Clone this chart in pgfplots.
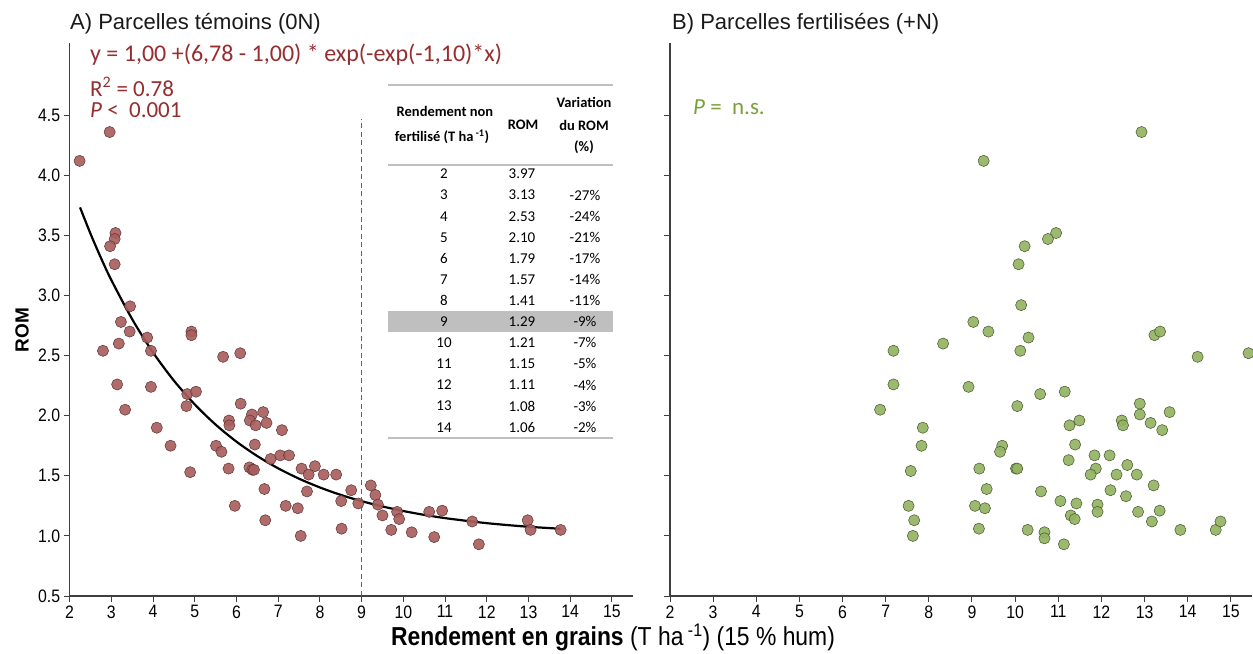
\documentclass[border=0pt]{standalone}
\usepackage{pgfplots}
\pgfplotsset{compat=1.18}
\usepackage{fontspec}
\setmainfont{Liberation Sans}
\newfontfamily\calibri{Carlito}
\newfontfamily\narrow[FakeStretch=0.88]{Liberation Sans}

\definecolor{romred}{HTML}{A95E5E}
\definecolor{romedge}{HTML}{5E3434}
\definecolor{fertgreen}{HTML}{93B363}
\definecolor{fertedge}{HTML}{45552A}
\definecolor{eqred}{HTML}{962D2F}
\definecolor{nsgreen}{HTML}{78A138}
\definecolor{axisgray}{HTML}{3F3F3F}
\definecolor{rulegray}{HTML}{BFBFBF}
\definecolor{bandgray}{HTML}{BFBFBF}

% Unfertilised plots: grain yield (T/ha) vs ROM
\pgfplotstableread{
x y
2.24 4.12
2.96 4.36
3.10 3.52
3.08 3.47
2.97 3.41
3.08 3.26
3.45 2.91
3.23 2.78
3.44 2.70
3.86 2.65
3.18 2.60
2.80 2.54
3.95 2.54
4.92 2.70
4.92 2.67
5.68 2.49
6.09 2.52
3.14 2.26
3.95 2.24
4.82 2.18
5.03 2.20
3.33 2.05
4.80 2.08
4.09 1.90
6.10 2.10
6.37 2.01
6.64 2.03
6.32 1.96
5.82 1.96
5.83 1.92
6.46 1.92
6.72 1.94
7.09 1.88
4.42 1.75
5.51 1.75
5.64 1.70
6.44 1.76
4.89 1.53
5.81 1.56
6.31 1.57
6.38 1.55
6.42 1.55
6.82 1.64
7.05 1.67
7.26 1.67
7.56 1.56
7.88 1.58
7.73 1.51
8.09 1.51
8.39 1.51
6.67 1.39
7.69 1.37
8.75 1.38
8.51 1.29
8.92 1.27
5.96 1.25
7.18 1.25
7.47 1.23
6.69 1.13
8.52 1.06
7.54 1.00
9.22 1.42
9.33 1.34
9.39 1.26
9.50 1.17
9.71 1.05
9.85 1.20
9.90 1.14
10.20 1.03
10.62 1.20
10.93 1.21
10.74 0.99
11.65 1.12
11.81 0.93
12.98 1.13
13.05 1.05
13.77 1.05
}\temoins

% Fertilised plots
\pgfplotstableread{
x y
12.93 4.36
9.27 4.12
10.95 3.52
10.76 3.47
10.22 3.41
10.08 3.26
10.14 2.92
9.03 2.78
9.38 2.70
8.33 2.60
10.31 2.65
10.12 2.54
13.23 2.67
13.36 2.70
14.23 2.49
15.41 2.52
8.92 2.24
10.05 2.08
10.58 2.18
11.15 2.20
12.89 2.10
12.89 2.01
13.58 2.03
13.14 1.94
13.41 1.88
12.47 1.96
12.50 1.92
11.26 1.92
11.49 1.96
7.86 1.90
7.83 1.75
9.70 1.75
9.65 1.70
11.39 1.76
9.17 1.56
10.02 1.56
10.05 1.56
11.24 1.63
11.84 1.67
12.19 1.67
11.87 1.56
11.75 1.51
12.35 1.51
12.60 1.59
12.82 1.51
13.21 1.42
9.34 1.39
10.60 1.37
12.21 1.38
12.57 1.33
9.07 1.25
9.30 1.23
11.05 1.29
11.42 1.27
11.91 1.26
11.91 1.20
11.29 1.17
11.38 1.14
12.85 1.20
13.35 1.21
13.17 1.12
9.16 1.06
10.29 1.05
10.68 1.03
10.68 0.98
11.13 0.93
13.83 1.05
14.65 1.05
14.76 1.12
7.18 2.54
7.18 2.26
6.87 2.05
7.58 1.54
7.53 1.25
7.66 1.13
7.63 1.00
}\fertilisees

% Fitted curve y = 1 + 5.78 exp(-exp(-1.10) x), tabulated
\pgfplotstableread{
x y
2.25 3.733
2.5 3.515
2.75 3.314
3 3.129
3.5 2.803
4 2.526
4.5 2.292
5 2.094
5.5 1.926
6 1.784
6.5 1.664
7 1.562
7.5 1.476
8 1.403
8.5 1.341
9 1.289
9.5 1.245
10 1.207
10.5 1.175
11 1.148
11.5 1.126
12 1.106
12.5 1.090
13 1.076
13.5 1.065
13.77 1.059
}\ajustement

\pgfplotsset{
  romaxis/.style={
    scale only axis, height=552.9bp,
    xmin=2, xmax=15.5, ymin=0.5, ymax=5.1,
    axis x line=bottom, axis y line=left,
    axis line style={draw=axisgray, line width=1.7bp, -},
    xtick={2,3,...,15}, ytick={0.5,1.0,1.5,2.0,2.5,3.0,3.5,4.0,4.5},
    tick align=outside, major tick length=6bp,
    tick style={draw=axisgray, line width=1bp},
    tick label style={font=\narrow\fontsize{18bp}{18bp}\selectfont},
    /pgf/number format/assume math mode=true,
    yticklabel style={/pgf/number format/fixed, /pgf/number format/fixed zerofill, /pgf/number format/precision=1},
    clip=false,
  },
}

\begin{document}
\begin{tikzpicture}
\path[use as bounding box] (0,0) rectangle (1253bp,654bp);

% Panel A
\begin{axis}[romaxis, at={(69.6bp,58bp)}, anchor=south west, width=563.2bp]
  \addplot[draw=axisgray!80, line width=1.4bp, dash pattern=on 5bp off 3.5bp] coordinates {(9,0.5) (9,4.47)};
  \addplot[only marks, mark=*, mark size=5.6bp,
    mark options={fill=romred, draw=romedge, line width=0.5bp, fill opacity=0.92}] table {\temoins};
  \addplot[black, line width=2.2bp, smooth, no marks] table {\ajustement};
\end{axis}

% Panel B
\begin{axis}[romaxis, at={(670bp,58bp)}, anchor=south west, width=582.4bp, yticklabels={}]
  \addplot[only marks, mark=*, mark size=5.6bp,
    mark options={fill=fertgreen, draw=fertedge, line width=0.5bp, fill opacity=0.92}] table {\fertilisees};
\end{axis}

\begin{scope}[shift={(0,654bp)}, x=1bp, y=-1bp]
  % panel titles
  \node[anchor=base west, inner sep=0, font=\fontsize{22bp}{22bp}\selectfont, text=black!90] at (70,30) {A) Parcelles témoins (0N)};
  \node[anchor=base west, inner sep=0, font=\fontsize{22bp}{22bp}\selectfont, text=black!90] at (672,30) {B) Parcelles fertilisées (+N)};
  % regression statistics
  \node[anchor=base west, inner sep=0, font=\calibri\fontsize{24bp}{24bp}\selectfont, text=eqred] at (90,62) {y = 1,00 +(6,78 - 1,00) * exp(-exp(-1,10)*x)};
  \node[anchor=base west, inner sep=0, font=\calibri\fontsize{23bp}{23bp}\selectfont, text=eqred] at (90,97) {R\textsuperscript{2} = 0.78};
  \node[anchor=base west, inner sep=0, font=\calibri\fontsize{23bp}{23bp}\selectfont, text=eqred] at (90,118) {\textit{P} <\ \ 0.001};
  \node[anchor=base west, inner sep=0, font=\calibri\fontsize{23bp}{23bp}\selectfont, text=nsgreen] at (693,115) {\textit{P} =\ \ n.s.};
  % axis titles
  \node[rotate=90, font=\bfseries\fontsize{19bp}{19bp}\selectfont] at (22,330) {ROM};
  \node[anchor=base, inner sep=0, font=\narrow\fontsize{26bp}{26bp}\selectfont] at (613,646)
    {\textbf{Rendement en grains} (T ha\textsuperscript{ -1}) (15 \% hum)};

  % inset table
  \fill[bandgray] (388,311.2) rectangle (613,332.2);
  \draw[rulegray, line width=1.2bp] (388,85) -- (613,85);
  \draw[rulegray, line width=1.2bp] (388,165) -- (613,165);
  \draw[rulegray, line width=1.2bp] (388,438) -- (613,438);
  \begin{scope}[every node/.style={font=\calibri\bfseries\fontsize{14.5bp}{14.5bp}\selectfont, inner sep=0}]
    \node at (445,111) {Rendement non};
    \node at (442,137) {fertilisé (T ha\textsuperscript{ -1})};
    \node at (523,125) {ROM};
    \node at (584,102) {Variation};
    \node at (584,125) {du ROM};
    \node at (584,147) {(\%)};
  \end{scope}
  \begin{scope}[every node/.style={font=\calibri\fontsize{15bp}{15bp}\selectfont, inner sep=0}]
    \foreach \r/\rom/\var [count=\i from 0] in
      {2/3.97/{}, 3/3.13/-27\%, 4/2.53/-24\%, 5/2.10/-21\%, 6/1.79/-17\%,
       7/1.57/-14\%, 8/1.41/-11\%, 9/1.29/-9\%, 10/1.21/-7\%, 11/1.15/-5\%,
       12/1.11/-4\%, 13/1.08/-3\%, 14/1.06/-2\%}
    {
      \node at (444,174+21.1*\i) {\r};
      \node at (522,174+21.1*\i) {\rom};
      \node at (585,174+21.1*\i) {\var};
    }
  \end{scope}
\end{scope}
\end{tikzpicture}
\end{document}
